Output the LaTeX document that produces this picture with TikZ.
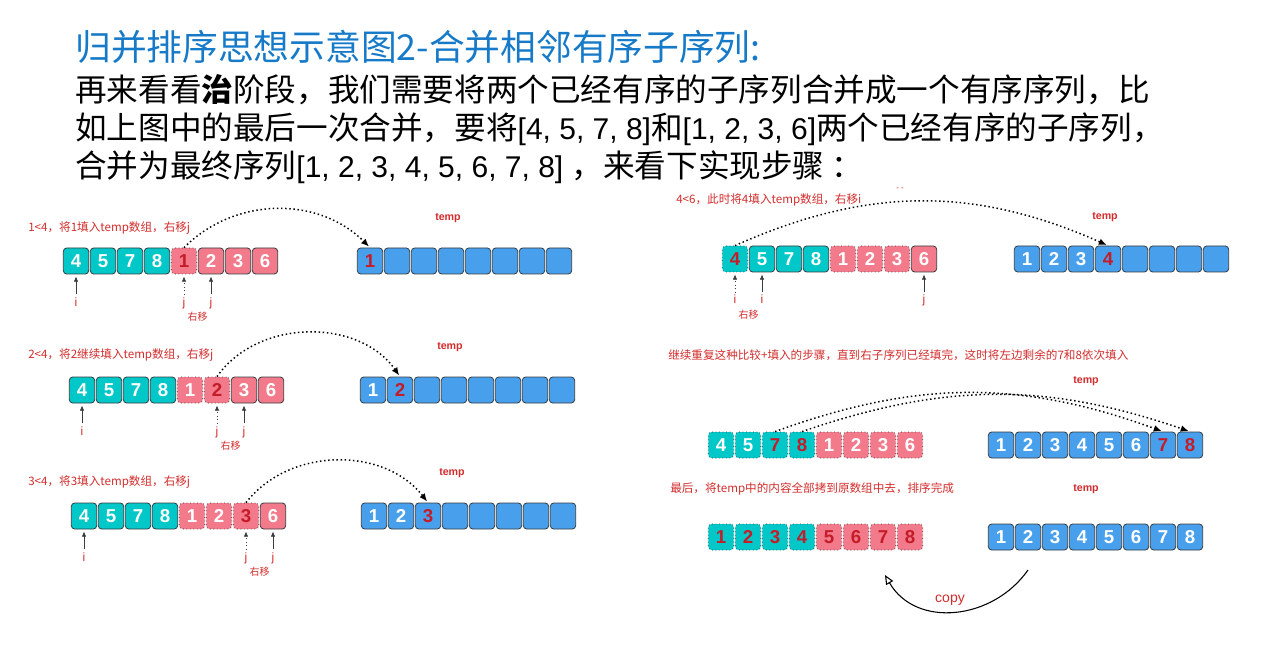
\documentclass[tikz,border=0pt]{standalone}
\usepackage{fontspec}
\setmainfont{Liberation Sans}
\newfontfamily\cjk{Noto Sans CJK SC}
\usepackage{xcolor}
\definecolor{cellteal}{RGB}{0,200,200}
\definecolor{cellpink}{RGB}{242,122,138}
\definecolor{cellblue}{RGB}{72,160,236}
\definecolor{cellline}{RGB}{55,60,65}
\definecolor{pickred}{RGB}{196,28,40}
\definecolor{notered}{RGB}{210,44,44}
\definecolor{titleblue}{RGB}{22,122,200}
\usepackage{tikz}
\usetikzlibrary{positioning}
\usetikzlibrary{calc}
\usetikzlibrary{arrows.meta}
\newcommand{\widthcell}{19pt}
\newcommand{\heightcell}{19.5pt}
\newcommand{\latin}[1]{{\rmfamily\fontsize{22.5}{28}\selectfont #1}}
\tikzset{
    cell/.style={draw=cellline, line width=0.6pt, rounded corners=2.5pt, minimum width=\widthcell, minimum height=\heightcell, inner sep=0pt, text=white, font=\fontsize{14}{14}\selectfont\bfseries},
    tq/.style={cell, fill=cellteal},
    tqm/.style={tq, dotted},
    tqr/.style={tqm, text=pickred},
    pk/.style={cell, fill=cellpink},
    pkm/.style={pk, dotted},
    pkr/.style={pkm, text=pickred},
    bl/.style={cell, fill=cellblue},
    blr/.style={bl, text=pickred},
    note/.style={anchor=west, inner sep=0pt, text=notered, font=\cjk\fontsize{8.7}{10}\selectfont},
    templabel/.style={inner sep=0pt, text=notered, font=\fontsize{8}{9}\selectfont\bfseries},
    ptrlabel/.style={inner sep=1pt, text=notered, text height=6.5pt, text depth=2pt, font=\fontsize{9}{10}\selectfont},
    shiftnote/.style={anchor=north, inner sep=1pt, text=notered, font=\cjk\fontsize{7.5}{8}\selectfont},
    ptr/.style={-{Latex[length=4pt,width=3.5pt]}, cellline, line width=0.6pt, shorten <=1pt, shorten >=1.5pt},
    hop/.style={-{Latex[length=6pt,width=5pt]}, dotted, line width=1.1pt, shorten >=1pt},
    copyarrow/.style={-{Triangle[open,length=7pt,width=6pt]}, line width=0.8pt},
    copylabel/.style={inner sep=0pt, text=notered, font=\fontsize{10.5}{12}\selectfont},
    body/.style={anchor=base west, inner sep=0pt, font=\cjk\fontsize{23.7}{28}\selectfont},
    heading/.style={body, text=titleblue, font=\cjk\fontsize{26.8}{30}\selectfont}
}
\begin{document}
\begin{tikzpicture}[x=0.75pt, y=-0.75pt]

      \useasboundingbox (0,0) rectangle (1285,645);

      \newcommand\cellrow[4]{
        \foreach \val/\sty [count=\k] in {#4}
          \node[\sty] (#1-\k) at ({#2+27*(\k-1)}, #3) {\val};
      }

      \newcommand\pointer[4]{
        \node[ptrlabel, below=16pt of #2] (#1) {#3};
        \draw[ptr, #4] (#1) -- (#2);
      }

      \node[heading] (title) at (75,61) {归并排序思想示意图2-合并相邻有序子序列:};
      \node[body] (line-a) at (75,102) {再来看看{\bfseries 治}阶段，我们需要将两个已经有序的子序列合并成一个有序序列，比};
      \node[body] (line-b) at (75,140) {如上图中的最后一次合并，要将\latin{[4, 5, 7, 8]}和\latin{[1, 2, 3, 6]}两个已经有序的子序列，};
      \node[body] (line-c) at (75,178) {合并为最终序列\latin{[1, 2, 3, 4, 5, 6, 7, 8] }，来看下实现步骤 ：};

      \node[note] (note-1) at (28,228) {1<4，将1填入temp数组，右移j};
      \node[templabel] (temp-1) at (448,218) {temp};
      \cellrow{a1}{76}{261}{4/tq,5/tq,7/tq,8/tq,1/pkr,2/pk,3/pk,6/pk}
      \cellrow{t1}{370}{261}{1/blr,{}/bl,{}/bl,{}/bl,{}/bl,{}/bl,{}/bl,{}/bl}
      \pointer{i1}{a1-1}{i}{solid}
      \pointer{j1a}{a1-5}{j}{dotted}
      \pointer{j1b}{a1-6}{j}{solid}
      \node[shiftnote] (shift-1) at ($(j1a.south)!.5!(j1b.south)$) {右移};
      \draw[hop] (a1-5.north) to[bend left=45] (t1-1.north);

      \node[note] (note-2) at (28,355) {2<4，将2继续填入temp数组，右移j};
      \node[templabel] (temp-2) at (450,347) {temp};
      \cellrow{a2}{82}{390}{4/tq,5/tq,7/tq,8/tq,1/pkm,2/pkr,3/pk,6/pk}
      \cellrow{t2}{373}{390}{1/bl,2/blr,{}/bl,{}/bl,{}/bl,{}/bl,{}/bl,{}/bl}
      \pointer{i2}{a2-1}{i}{solid}
      \pointer{j2a}{a2-6}{j}{dotted}
      \pointer{j2b}{a2-7}{j}{solid}
      \node[shiftnote] (shift-2) at ($(j2a.south)!.5!(j2b.south)$) {右移};
      \draw[hop] (a2-6.north) to[bend left=55] (t2-2.north);

      \node[note] (note-3) at (28,482) {3<4，将3填入temp数组，右移j};
      \node[templabel] (temp-3) at (452,473) {temp};
      \cellrow{a3}{84}{516}{4/tq,5/tq,7/tq,8/tq,1/pkm,2/pkm,3/pkr,6/pk}
      \cellrow{t3}{374}{516}{1/bl,2/bl,3/blr,{}/bl,{}/bl,{}/bl,{}/bl,{}/bl}
      \pointer{i3}{a3-1}{i}{solid}
      \pointer{j3a}{a3-7}{j}{dotted}
      \pointer{j3b}{a3-8}{j}{solid}
      \node[shiftnote] (shift-3) at ($(j3a.south)!.5!(j3b.south)$) {右移};
      \draw[hop] (a3-7.north) to[bend left=52] (t3-3.north);

      \node[note] (note-4) at (676,200) {4<6，此时将4填入temp数组，右移i};
      \node[note, font=\fontsize{6}{6}\selectfont] (dash-4) at (896,189) {- -};
      \node[templabel] (temp-4) at (1105,217) {temp};
      \cellrow{a4}{735}{259}{4/tqr,5/tq,7/tq,8/tq,1/pkm,2/pkm,3/pkm,6/pk}
      \cellrow{t4}{1027}{259}{1/bl,2/bl,3/bl,4/blr,{}/bl,{}/bl,{}/bl,{}/bl}
      \pointer{i4a}{a4-1}{i}{dotted}
      \pointer{i4b}{a4-2}{i}{solid}
      \pointer{j4}{a4-8}{j}{solid}
      \node[shiftnote] (shift-4) at ($(i4a.south)!.5!(i4b.south)$) {右移};
      \draw[hop] (a4-1.north) to[bend left=24] (t4-4.north);

      \node[note] (note-5) at (668,355) {继续重复这种比较+填入的步骤，直到右子序列已经填完，这时将左边剩余的7和8依次填入};
      \node[templabel] (temp-5) at (1086,381) {temp};
      \cellrow{a5}{721}{445}{4/tqm,5/tqm,7/tqr,8/tqr,1/pkm,2/pkm,3/pkm,6/pkm}
      \cellrow{t5}{1001}{445}{1/bl,2/bl,3/bl,4/bl,5/bl,6/bl,7/blr,8/blr}
      \draw[hop] (a5-3.north) to[bend left=20] (t5-7.north);
      \draw[hop] (a5-4.north) to[bend left=19] (t5-8.north);

      \node[note] (note-6) at (670,489) {最后，将temp中的内容全部拷到原数组中去，排序完成};
      \node[templabel] (temp-6) at (1086,489) {temp};
      \cellrow{a6}{721}{537}{1/tqr,2/tqr,3/tqr,4/tqr,5/pkr,6/pkr,7/pkr,8/pkr}
      \cellrow{t6}{1001}{537}{1/bl,2/bl,3/bl,4/bl,5/bl,6/bl,7/bl,8/bl}
      \coordinate (copy-from) at (1028,570);
      \coordinate (copy-to) at (885,575);
      \draw[copyarrow] (copy-from) to[out=-125, in=-60, looseness=1.1] (copy-to);
      \node[copylabel] (copy) at (950,600) {copy};
    \end{tikzpicture}
\end{document}
